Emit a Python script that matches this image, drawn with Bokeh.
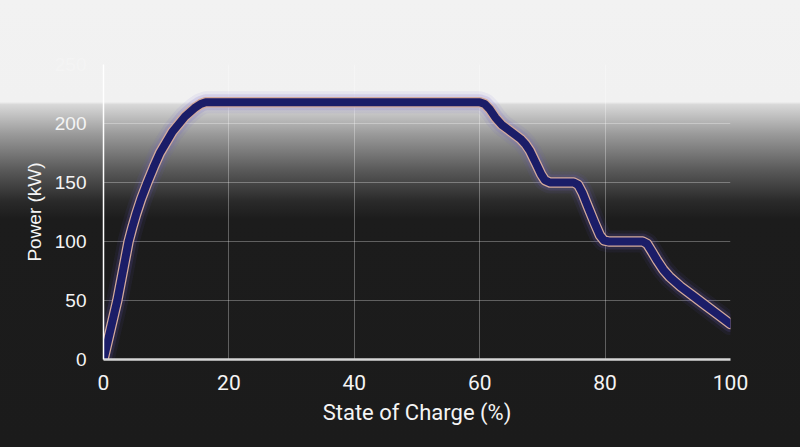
from bokeh.plotting import figure
from bokeh.models import Range1d, FixedTicker
from bokeh.embed import file_html
from bokeh.resources import INLINE

# State of charge (%) and charging power (kW)
soc = [0, 2.2, 4, 4.6, 5.2, 6, 7, 8, 9, 11, 13, 14.5, 15.5, 16.3, 60, 60.8, 61.6, 62.5, 63.5, 64.5, 65.5, 66.5,
       67.3, 68, 69, 69.8, 70.4, 71.2, 75, 75.7, 76.4, 77.3, 78.3, 79.2, 79.8, 80.6, 86, 86.7, 87.4, 88.3, 89.3,
       90.3, 92, 94, 96, 98, 100]
power = [0, 50, 100, 112, 123, 136, 150, 163, 175, 193, 206, 213, 216.5, 218, 218, 216.5, 212, 205, 199, 195, 191, 187,
         182.5, 177, 166, 157, 152, 150, 150, 148, 141, 129, 116, 105, 101, 100, 100, 98, 92, 84, 76,
         70, 62, 54, 46, 38, 30]

x_ticks = [0, 20, 40, 60, 80, 100]
y_ticks = [0, 50, 100, 150, 200, 250]

gradient = ("linear-gradient(to bottom, #f2f2f2 0%, #f1f1f1 22.8%, #d8d8d8 23.4%, "
            "#9a9a9a 30%, #5a5a5a 38%, #2a2a2a 45%, #1c1c1c 49%, #1b1b1b 100%)")

p = figure(width=800, height=447, output_backend="svg", toolbar_location=None,
           x_range=Range1d(0, 100), y_range=Range1d(0, 250),
           min_border_left=103, min_border_right=70, min_border_top=64, min_border_bottom=88,
           background_fill_alpha=0, border_fill_alpha=0, outline_line_color=None)
p.styles = {"position": "absolute", "left": "0px", "top": "0px", "background": gradient}

# glow + outline + navy line
p.line(soc, power, line_width=22, line_color="#6a58c8", line_alpha=0.08, line_join="round", line_cap="round")
p.line(soc, power, line_width=16, line_color="#7060d0", line_alpha=0.16, line_join="round", line_cap="round")
p.line(soc, power, line_width=10.5, line_color="#d4aa9c", line_join="round", line_cap="round")
p.line(soc, power, line_width=8, line_color="#1b1d68", line_join="round", line_cap="round")

for ax in (p.xaxis, p.yaxis):
    ax.major_tick_line_color = None
    ax.minor_tick_line_color = None
    ax.major_label_text_color = "#f4f4f4"
    ax.axis_label_text_color = "#f4f4f4"
    ax.axis_label_text_font_style = "normal"

p.xaxis.ticker = FixedTicker(ticks=x_ticks)
p.yaxis.ticker = FixedTicker(ticks=y_ticks)

p.xaxis.axis_line_color = "#d6d6d6"
p.xaxis.axis_line_width = 2.5
p.yaxis.axis_line_color = "#ffffff"
p.yaxis.axis_line_width = 1.5

p.xaxis.major_label_text_font = "Roboto"
p.xaxis.major_label_text_font_size = "21px"
p.xaxis.major_label_standoff = 9
p.xaxis.axis_label = "State of Charge (%)"
p.xaxis.axis_label_text_font = "Roboto"
p.xaxis.axis_label_text_font_size = "22px"
p.xaxis.axis_label_standoff = 7

p.yaxis.major_label_text_font = "Liberation Sans"
p.yaxis.major_label_text_font_size = "19px"
p.yaxis.major_label_standoff = 11
p.yaxis.axis_label = "Power (kW)"
p.yaxis.axis_label_text_font = "Liberation Sans"
p.yaxis.axis_label_text_font_size = "19px"
p.yaxis.axis_label_standoff = 7

p.xgrid.grid_line_color = "#ffffff"
p.xgrid.grid_line_alpha = 0.3
p.ygrid.grid_line_color = "#ffffff"
p.ygrid.grid_line_alpha = 0.3

open("out.html", "w").write(file_html(p, INLINE))
